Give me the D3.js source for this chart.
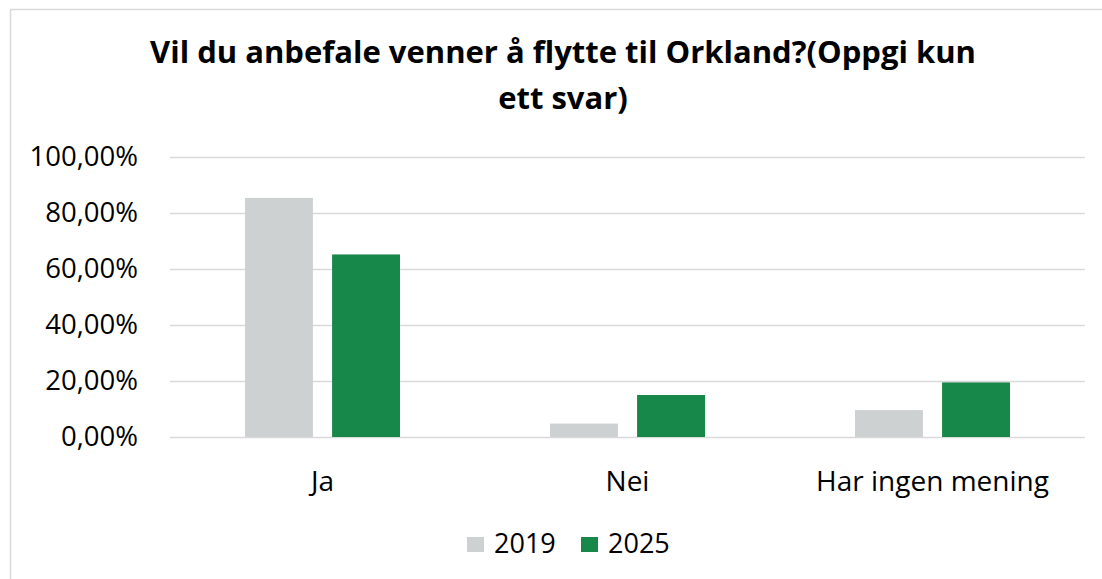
<!DOCTYPE html>
<html lang="no">
<head>
  <meta charset="UTF-8">
  <title>Vil du anbefale venner å flytte til Orkland?</title>
  <style>
    body { margin: 0; background: #fff; }
    svg { display: block; font-family: "Open Sans", sans-serif; }
  </style>
</head>
<body>
  <script src="https://d3js.org/d3.v7.min.js"></script>
  <script>
    const categories = ["Ja", "Nei", "Har ingen mening"];
    const years = ["2019", "2025"];
    const values2019 = [0.854, 0.048, 0.096];
    const values2025 = [0.652, 0.150, 0.195];
    const yTicks = [0, 0.2, 0.4, 0.6, 0.8, 1.0];
    const colors = ["#CDD1D2", "#18874A"];

    const width = 1102, height = 579;
    const margin = { top: 157, right: 17, bottom: 142, left: 170 };

    const svg = d3.select("body").append("svg")
      .attr("width", width)
      .attr("height", height);

    // chart frame (only top and left edges show in the picture)
    svg.append("path")
      .attr("d", `M10.5,${height} V9.5 H${width}`)
      .attr("fill", "none")
      .attr("stroke", "#D9D9D9")
      .attr("stroke-width", 1.5);

    svg.append("text")
      .attr("x", 563)
      .attr("text-anchor", "middle")
      .attr("font-weight", "bold")
      .attr("font-size", 31)
      .attr("fill", "#000")
      .selectAll("tspan")
      .data(["Vil du anbefale venner å flytte til Orkland?(Oppgi kun", "ett svar)"])
      .join("tspan")
      .attr("x", 563)
      .attr("y", (d, i) => 63 + i * 46)
      .text(d => d);

    const x0 = d3.scaleBand()
      .domain(categories)
      .range([margin.left, width - margin.right]);

    const x1 = d3.scaleBand()
      .domain(years)
      .range([0, 155])
      .paddingInner(0.22);

    const y = d3.scaleLinear()
      .domain([0, 1])
      .range([height - margin.bottom, margin.top]);

    const fmt = d => d3.format(".2f")(d * 100).replace(".", ",") + "%";

    // gridlines + y labels
    const yAxis = svg.append("g")
      .attr("transform", `translate(${margin.left},0)`)
      .call(d3.axisLeft(y).tickValues(yTicks).tickFormat(fmt)
        .tickSize(-(width - margin.left - margin.right)).tickPadding(32));
    yAxis.select(".domain").remove();
    yAxis.selectAll(".tick line").attr("stroke", "#D9D9D9").attr("stroke-width", 1.5);
    yAxis.selectAll(".tick text")
      .attr("font-size", 27.5)
      .attr("font-family", "Open Sans, sans-serif")
      .attr("fill", "#000");

    const series = [values2019, values2025];

    const groups = svg.append("g")
      .selectAll("g")
      .data(categories)
      .join("g")
      .attr("transform", d => `translate(${x0(d) + x0.bandwidth() / 2 - 77.5},0)`);

    groups.selectAll("rect")
      .data((c, ci) => years.map((yr, si) => ({ yr, si, v: series[si][ci] })))
      .join("rect")
      .attr("x", d => x1(d.yr))
      .attr("width", x1.bandwidth())
      .attr("y", d => y(d.v))
      .attr("height", d => y(0) - y(d.v))
      .attr("fill", d => colors[d.si]);

    // category labels
    const xAxis = svg.append("g")
      .attr("transform", `translate(0,${y(0)})`)
      .call(d3.axisBottom(x0).tickSize(0).tickPadding(34));
    xAxis.select(".domain").remove();
    xAxis.selectAll(".tick text")
      .attr("font-size", 28)
      .attr("font-family", "Open Sans, sans-serif")
      .attr("fill", "#000");

    // legend
    const legend = svg.append("g")
      .selectAll("g")
      .data(years)
      .join("g")
      .attr("transform", (d, i) => `translate(${467 + i * 114},0)`);
    legend.append("rect")
      .attr("y", 537)
      .attr("width", 17)
      .attr("height", 15)
      .attr("fill", (d, i) => colors[i]);
    legend.append("text")
      .attr("x", 27)
      .attr("y", 553)
      .attr("font-size", 27)
      .attr("fill", "#000")
      .text(d => d);
  </script>
</body>
</html>
